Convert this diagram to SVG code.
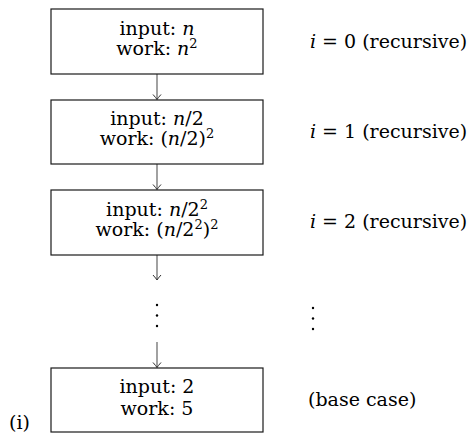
<svg xmlns="http://www.w3.org/2000/svg" width="468" height="434" viewBox="0 0 468 434">
<style>
text{font-family:"DejaVu Serif","Liberation Serif",serif;font-size:19px;fill:#000}
.c{text-anchor:middle}
.m{font-style:italic}
.box{fill:#fff;stroke:#1a1a1a;stroke-width:1.2}
.edge{stroke:#555;stroke-width:1.1;fill:none}
.dot{fill:#000}
</style>
<defs>
<marker id="to" markerUnits="userSpaceOnUse" markerWidth="10" markerHeight="10" refX="0" refY="0" viewBox="-6 -5 8 10" orient="auto">
<path d="M-5,-4 Q-1.5,-0.9 0,0 Q-1.5,0.9 -5,4" fill="none" stroke="#333" stroke-width="1"/>
</marker>
</defs>
<rect width="468" height="434" fill="#fff"/>
<g id="connectors">
<line class="edge" x1="157" y1="74" x2="157" y2="99.5" marker-end="url(#to)"/>
<line class="edge" x1="157" y1="164" x2="157" y2="189.5" marker-end="url(#to)"/>
<line class="edge" x1="157" y1="255" x2="157" y2="280" marker-end="url(#to)"/>
<line class="edge" x1="157" y1="342" x2="157" y2="367.5" marker-end="url(#to)"/>
</g>
<g id="node0">
<rect class="box" x="51" y="9" width="212" height="65"/>
<text class="c" x="157" y="34.5">input: <tspan class="m">n</tspan></text>
<text class="c" x="157" y="55">work: <tspan class="m">n</tspan><tspan font-size="13" dy="-7.5">2</tspan></text>
</g>
<g id="node1">
<rect class="box" x="51" y="100" width="212" height="64"/>
<text class="c" x="157" y="125">input: <tspan class="m">n</tspan>/2</text>
<text class="c" x="157" y="145">work: (<tspan class="m">n</tspan>/2)<tspan font-size="13" dy="-7.5">2</tspan></text>
</g>
<g id="node2">
<rect class="box" x="51" y="190" width="212" height="65"/>
<text class="c" x="157" y="216">input: <tspan class="m">n</tspan>/2<tspan font-size="13" dy="-7.5">2</tspan></text>
<text class="c" x="157" y="236">work: (<tspan class="m">n</tspan>/2<tspan font-size="13" dy="-7.5">2</tspan><tspan dy="7.5">)</tspan><tspan font-size="13" dy="-7.5">2</tspan></text>
</g>
<g id="dots">
<circle class="dot" cx="157" cy="305" r="1.2"/>
<circle class="dot" cx="157" cy="315.5" r="1.2"/>
<circle class="dot" cx="157" cy="326" r="1.2"/>
<circle class="dot" cx="313" cy="308" r="1.2"/>
<circle class="dot" cx="313" cy="318.5" r="1.2"/>
<circle class="dot" cx="313" cy="329" r="1.2"/>
</g>
<g id="node3">
<rect class="box" x="51" y="368" width="212" height="64"/>
<text class="c" x="157" y="393">input: 2</text>
<text class="c" x="157" y="414.5">work: 5</text>
</g>
<g id="labels">
<text x="310" y="48"><tspan class="m">i</tspan> = 0 (recursive)</text>
<text x="310" y="138"><tspan class="m">i</tspan> = 1 (recursive)</text>
<text x="310" y="228"><tspan class="m">i</tspan> = 2 (recursive)</text>
<text x="308" y="406">(base case)</text>
<text x="9" y="429" font-size="21">(i)</text>
</g>
</svg>
